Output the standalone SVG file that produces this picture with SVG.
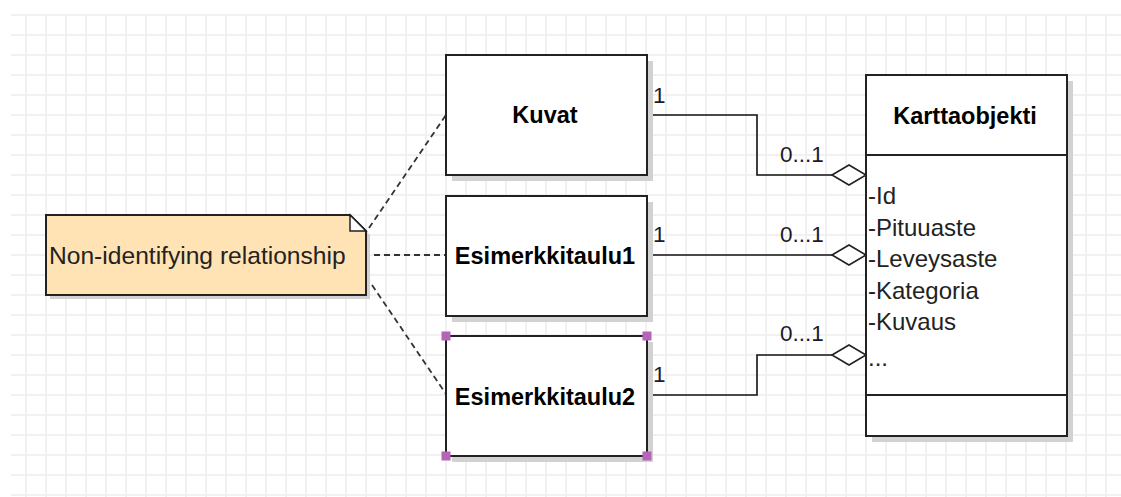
<svg xmlns="http://www.w3.org/2000/svg" width="1121" height="497" viewBox="0 0 1121 497">
  <defs>
    <pattern id="grid" patternUnits="userSpaceOnUse" x="16" y="5" width="20" height="20">
      <rect x="9" y="0" width="2" height="20" fill="#f1f1f1"/>
      <rect x="0" y="9" width="20" height="2" fill="#f1f1f1"/>
    </pattern>
    <style>
      .box { fill: #ffffff; stroke: #222222; stroke-width: 2; }
      .shadow { fill: #d2d2d2; }
      .title { font-family: "Liberation Sans", Arial, sans-serif; font-weight: bold; font-size: 23.5px; fill: #000000; text-anchor: middle; }
      .txt { font-family: "Liberation Sans", Arial, sans-serif; font-size: 24px; fill: #222222; }
      .note { font-family: "Liberation Sans", Arial, sans-serif; font-size: 24.6px; fill: #222222; }
      .mult { font-family: "Liberation Sans", Arial, sans-serif; font-size: 22.5px; fill: #1a1a2a; }
      .conn { fill: none; stroke: #111111; stroke-width: 1.6; }
      .dash { fill: none; stroke: #333333; stroke-width: 1.8; stroke-dasharray: 6 4; }
      .diamond { fill: #ffffff; stroke: #222222; stroke-width: 1.6; }
      .handle { fill: #b565b5; }
    </style>
  </defs>
  <rect x="0" y="0" width="1121" height="497" fill="#ffffff"/>
  <rect x="11" y="14" width="1110" height="483" fill="url(#grid)"/>

  <g id="connectors">
    <line class="dash" x1="369" y1="228" x2="446" y2="115"/>
    <line class="dash" x1="374" y1="255" x2="446" y2="255"/>
    <line class="dash" x1="372" y1="285" x2="446" y2="394"/>
    <polyline class="conn" points="647,115 757,115 757,175 832,175"/>
    <polygon class="diamond" points="832,175 849,165 866,175 849,185"/>
    <polyline class="conn" points="647,255 832,255"/>
    <polygon class="diamond" points="832,255 849,245 866,255 849,265"/>
    <polyline class="conn" points="647,395 757,395 757,355 832,355"/>
    <polygon class="diamond" points="832,355 849,345 866,355 849,365"/>
    <text class="mult" x="653" y="103">1</text>
    <text class="mult" x="780" y="162">0...1</text>
    <text class="mult" x="653" y="242">1</text>
    <text class="mult" x="780" y="242">0...1</text>
    <text class="mult" x="653" y="382">1</text>
    <text class="mult" x="780" y="341">0...1</text>
  </g>

  <g id="note">
    <polygon class="shadow" points="50,219 354,219 370,235 370,299 50,299"/>
    <polygon points="46,215 350,215 366,231 366,295 46,295" fill="#ffe3b5" stroke="#222222" stroke-width="2"/>
    <polygon points="350,215 350,231 366,231" fill="#ffffff" stroke="#222222" stroke-width="1.5"/>
    <text class="note" x="49" y="264">Non-identifying relationship</text>
  </g>

  <g id="kuvat">
    <rect class="shadow" x="452" y="61" width="201" height="120"/>
    <rect class="box" x="446" y="55" width="201" height="120"/>
    <text class="title" x="545" y="123">Kuvat</text>
  </g>

  <g id="esimerkkitaulu1">
    <rect class="shadow" x="452" y="202" width="201" height="120"/>
    <rect class="box" x="446" y="196" width="201" height="120"/>
    <text class="title" x="545" y="264">Esimerkkitaulu1</text>
  </g>

  <g id="esimerkkitaulu2">
    <rect class="shadow" x="452" y="342" width="201" height="120"/>
    <rect class="box" x="446" y="336" width="201" height="120"/>
    <text class="title" x="545" y="405">Esimerkkitaulu2</text>
    <rect class="handle" x="441.5" y="331.5" width="9" height="9"/>
    <rect class="handle" x="642.5" y="331.5" width="9" height="9"/>
    <rect class="handle" x="441.5" y="451.5" width="9" height="9"/>
    <rect class="handle" x="642.5" y="451.5" width="9" height="9"/>
  </g>

  <g id="karttaobjekti">
    <rect class="shadow" x="872" y="81" width="201" height="361"/>
    <rect class="box" x="866" y="75" width="201" height="361"/>
    <line x1="866" y1="155" x2="1067" y2="155" stroke="#222222" stroke-width="2"/>
    <line x1="866" y1="395" x2="1067" y2="395" stroke="#222222" stroke-width="2"/>
    <text class="title" x="965" y="124">Karttaobjekti</text>
    <text class="txt" x="868" y="204">-Id</text>
    <text class="txt" x="868" y="235.5">-Pituuaste</text>
    <text class="txt" x="868" y="267">-Leveysaste</text>
    <text class="txt" x="868" y="298.5">-Kategoria</text>
    <text class="txt" x="868" y="330">-Kuvaus</text>
    <text class="txt" x="868" y="366">...</text>
  </g>
</svg>
